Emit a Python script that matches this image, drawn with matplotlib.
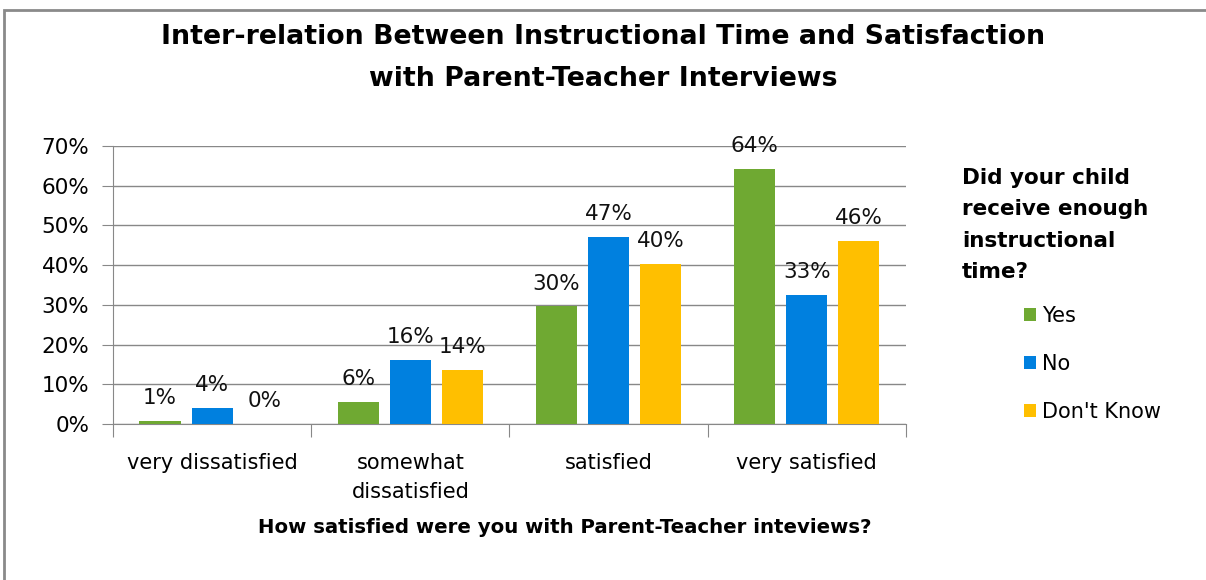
import numpy as np
import matplotlib
matplotlib.use('Agg')
import matplotlib.pyplot as plt
from matplotlib.patches import Rectangle

plt.rcParams['font.family'] = ['DejaVu Sans']

categories = ['very dissatisfied', 'somewhat\ndissatisfied', 'satisfied', 'very satisfied']
series_names = ['Yes', 'No', "Don't Know"]
yes_vals = [0.8, 5.6, 29.6, 64.3]
no_vals = [4.1, 16.2, 47.2, 32.6]
dk_vals = [0.0, 13.6, 40.4, 46.2]
colors = ['#6FA932', '#0080DF', '#FFBF00']

fig = plt.figure(figsize=(12.06, 5.8), dpi=100)
ax = fig.add_axes([0.0937, 0.269, 0.6575, 0.4793])

x = np.arange(len(categories))
width = 0.207
step = 0.263
bars = []
for i, (vals, c, name) in enumerate(zip([yes_vals, no_vals, dk_vals], colors, series_names)):
    b = ax.bar(x + (i - 1) * step, vals, width, color=c, label=name, zorder=3)
    bars.append(b)
    for rect, v in zip(b, vals):
        ax.annotate('{:.0f}%'.format(v), (rect.get_x() + rect.get_width() / 2, v),
                    xytext=(0, 9), textcoords='offset points', ha='center', va='bottom',
                    fontsize=15.5, color='#111111')

ax.set_xlim(-0.5, 3.5)
ax.set_ylim(0, 70)
ax.set_yticks(np.arange(0, 71, 10))
ax.set_yticklabels(['{}%'.format(v) for v in range(0, 71, 10)], fontsize=15.5)
ax.yaxis.grid(True, color='#888888', linewidth=1, zorder=0)
ax.tick_params(axis='y', length=8, color='#888888', pad=9)

ax.set_xticks(np.arange(-0.5, 4, 1))
ax.set_xticklabels([])
ax.set_xticks(x, minor=True)
ax.set_xticklabels(categories, minor=True, fontsize=15, linespacing=1.55)
ax.tick_params(axis='x', which='major', length=9, color='#888888')
ax.tick_params(axis='x', which='minor', length=0, pad=21)

for s in ['top', 'right']:
    ax.spines[s].set_visible(False)
ax.spines['left'].set_color('#888888')
ax.spines['bottom'].set_color('#888888')

ax.set_xlabel('How satisfied were you with Parent-Teacher inteviews?', fontsize=14.2,
              fontweight='bold')
ax.xaxis.set_label_coords((565 - 113) / (906 - 113), -0.34)

fig.suptitle('Inter-relation Between Instructional Time and Satisfaction\nwith Parent-Teacher Interviews',
             y=0.958, fontsize=19.3, fontweight='bold', linespacing=1.78)

fig.text(0.7977, 0.71, 'Did your child\nreceive enough\ninstructional\ntime?', fontsize=15.5,
         fontweight='bold', va='top', ha='left', linespacing=1.7)

leg = fig.legend(handles=bars, labels=series_names, loc='upper left', bbox_to_anchor=(0.8425, 0.487),
                 frameon=False, fontsize=15, handlelength=0.55, handleheight=0.55,
                 handletextpad=0.3, labelspacing=1.35, borderaxespad=0)

fig.patches.append(Rectangle((4 / 1206, -0.05), 1.2, 1 - 10 / 580 + 0.05, transform=fig.transFigure,
                             fill=False, edgecolor='#8a8a8a', linewidth=2))

fig.savefig('out.png', dpi=100)
